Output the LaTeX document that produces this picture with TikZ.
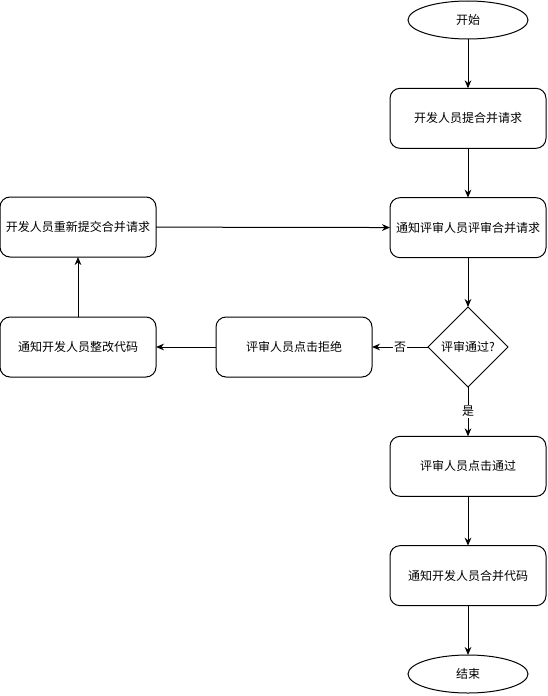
\documentclass[tikz,border=0pt]{standalone}
\usepackage{fontspec}
\setmainfont{Noto Sans CJK SC}
\usetikzlibrary{
  arrows.meta,
  positioning,
  shapes.geometric
}

\begin{document}
\begin{tikzpicture}[
  x=1pt, y=1pt,
  every node/.style={font=\fontsize{9pt}{11pt}\selectfont, line width=0.75pt,
                     outer sep=0pt},
  stepbox/.style={draw, rounded corners=7.5pt, minimum height=45pt,
                  minimum width=117pt, align=center},
  terminal/.style={draw, ellipse, minimum width=90pt, minimum height=28.5pt,
                   inner sep=0pt},
  decision/.style={draw, diamond, minimum width=60pt, minimum height=60pt,
                   inner sep=1pt},
  lbl/.style={fill=white, inner sep=1pt},
  arr/.style={-{Stealth[length=6pt, width=5pt]}, line width=0.75pt},
  node distance=37pt
]
\useasboundingbox (0,0) rectangle (410.25,-522);

% main column
\node[terminal] at (351,-15) (start) {开始};
\node[stepbox, below=of start] (submit) {开发人员提合并请求};
\node[stepbox, below=of submit] (notify) {通知评审人员评审合并请求};
\node[decision, below=of notify] (check) {评审通过?};
\node[stepbox, below=of check] (approve) {评审人员点击通过};
\node[stepbox, below=of approve] (merge) {通知开发人员合并代码};
\node[terminal, below=of merge] (finish) {结束};

% reject branch
\node[stepbox, left=42pt of check] (reject) {评审人员点击拒绝};
\node[stepbox, left=45pt of reject] (fix) {通知开发人员整改代码};
\node[stepbox, above=45pt of fix] (resubmit) {开发人员重新提交合并请求};

\draw[arr] (start) -- (submit);
\draw[arr] (submit) -- (notify);
\draw[arr] (notify) -- (check);
\draw[arr] (check) -- node[lbl] {是} (approve);
\draw[arr] (approve) -- (merge);
\draw[arr] (merge) -- (finish);
\draw[arr] (check) -- node[lbl] {否} (reject);
\draw[arr] (reject) -- (fix);
\draw[arr] (fix) -- (resubmit);
\draw[arr] (resubmit) -- (notify);

\end{tikzpicture}
\end{document}
